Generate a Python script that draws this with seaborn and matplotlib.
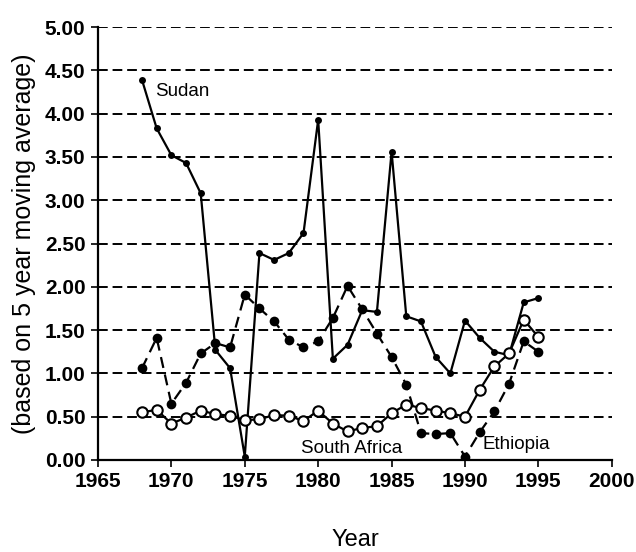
import numpy as np
import pandas as pd
import matplotlib
matplotlib.use("Agg")
import matplotlib.pyplot as plt
import seaborn as sns

years = list(range(1968, 1996))

sudan = [4.39, 3.83, 3.52, 3.43, 3.08, 1.27, 1.06, 0.04, 2.39, 2.31,
         2.39, 2.62, 3.93, 1.17, 1.33, 1.73, 1.71, 3.56, 1.66, 1.60,
         1.19, 1.00, 1.61, 1.41, 1.25, 1.21, 1.82, 1.87]
ethiopia = [1.06, 1.41, 0.65, 0.89, 1.23, 1.35, 1.30, 1.91, 1.75, 1.60,
            1.39, 1.30, 1.37, 1.64, 2.01, 1.74, 1.46, 1.19, 0.87, 0.31,
            0.30, 0.31, 0.04, 0.32, 0.56, 0.88, 1.37, 1.25]
south_africa = [0.55, 0.58, 0.42, 0.49, 0.57, 0.53, 0.51, 0.46, 0.47, 0.52,
                0.51, 0.45, 0.57, 0.42, 0.33, 0.37, 0.39, 0.54, 0.64, 0.60,
                0.57, 0.54, 0.50, 0.81, 1.08, 1.23, 1.62, 1.42]

yticks = np.arange(0, 5.01, 0.5)
xticks = list(range(1965, 2001, 5))

sns.set_style("ticks", {"text.color": "black", "axes.labelcolor": "black",
                        "xtick.color": "black", "ytick.color": "black",
                        "axes.edgecolor": "black"})
plt.rcParams['font.family'] = ['Liberation Sans', 'DejaVu Sans']

df = pd.DataFrame({"Year": years, "Sudan": sudan,
                   "Ethiopia": ethiopia, "South Africa": south_africa})

fig = plt.figure(figsize=(6.36, 5.52), dpi=100)
ax = fig.add_axes([0.154, 0.1667, 0.808, 0.7843])

for yv in yticks[1:]:
    ax.axhline(yv, color="black", lw=1.4, ls=(0, (5, 2.5)), zorder=0)

sns.lineplot(data=df, x="Year", y="Sudan", ax=ax, color="black", lw=1.6,
             marker="o", markersize=5, markeredgewidth=0, zorder=3)
sns.lineplot(data=df, x="Year", y="Ethiopia", ax=ax, color="black", lw=1.6,
             linestyle=(0, (5, 3)), marker="o", markersize=7,
             markeredgewidth=0, zorder=3)
sns.lineplot(data=df, x="Year", y="South Africa", ax=ax, color="black",
             lw=1.6, marker="o", markersize=7.5, markerfacecolor="white",
             markeredgecolor="black", markeredgewidth=1.5, zorder=4)

ax.set_xlim(1965, 2000)
ax.set_ylim(0, 5)
ax.set_xticks(xticks)
ax.set_yticks(yticks)
ax.set_yticklabels([f"{v:.2f}" for v in yticks])
ax.tick_params(axis="both", labelsize=15, length=5, width=1.2,
               direction="out", pad=4, colors="black")
for lab in ax.get_xticklabels() + ax.get_yticklabels():
    lab.set_fontweight("bold")

ax.spines["top"].set_visible(False)
ax.spines["right"].set_visible(False)
ax.spines["left"].set_linewidth(1.6)
ax.spines["bottom"].set_linewidth(1.6)

ax.set_xlabel("Year", fontsize=17, labelpad=27, color="black")
ax.set_ylabel("(based on 5 year moving average)", fontsize=18, labelpad=6,
              color="black")

ax.text(1968.9, 4.2, "Sudan", fontsize=13.5, color="black")
ax.text(1978.8, 0.08, "South Africa", fontsize=13.5, color="black")
ax.text(1991.2, 0.13, "Ethiopia", fontsize=13.5, color="black")

fig.savefig("out.png", dpi=100)
